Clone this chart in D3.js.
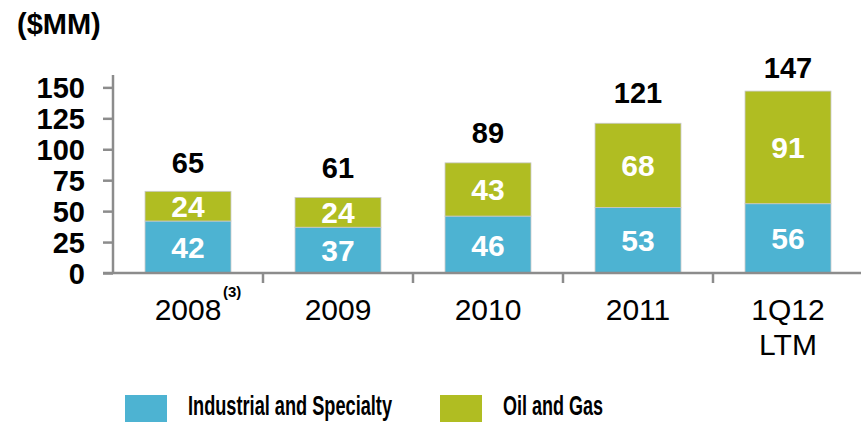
<!DOCTYPE html>
<html>
<head>
<meta charset="utf-8">
<script src="https://cdn.jsdelivr.net/npm/d3@7"></script>
<style>
  html, body { margin: 0; padding: 0; background: #fff; }
  svg { display: block; font-family: Arial, "Liberation Sans", sans-serif; }
</style>
</head>
<body>
<svg id="chart" width="861" height="422"></svg>
<script>
// Revenue by segment, $MM
const categories = ["2008", "2009", "2010", "2011", "1Q12 LTM"];
const industrial = [42, 37, 46, 53, 56];
const oilGas     = [24, 24, 43, 68, 91];
const totals     = [65, 61, 89, 121, 147];
const seriesNames = ["Industrial and Specialty", "Oil and Gas"];
const yTicks = [0, 25, 50, 75, 100, 125, 150];

const colors = { industrial: "#4db3d2", oilGas: "#b0bd22" };
const axisColor = "#8c8c8c";

const svg = d3.select("#chart");

const plot = { left: 113, right: 863, top: 75, bottom: 273 };

const x = d3.scaleBand()
  .domain(categories)
  .range([plot.left, plot.right])
  .paddingInner(0.427)
  .paddingOuter(0.2135);

const y = d3.scaleLinear()
  .domain([0, 160])
  .range([plot.bottom, plot.top]);

// Unit title
svg.append("text")
  .attr("x", 17).attr("y", 34)
  .attr("font-size", 29).attr("font-weight", "bold")
  .attr("fill", "#000")
  .text("($MM)");

// Stacked data
const stackData = categories.map((c, i) => ({ cat: c, industrial: industrial[i], oilGas: oilGas[i] }));
const stack = d3.stack().keys(["industrial", "oilGas"]);
const layers = stack(stackData);

const gBars = svg.append("g");
layers.forEach(layer => {
  gBars.selectAll(null)
    .data(layer)
    .enter().append("rect")
    .attr("x", d => x(d.data.cat))
    .attr("width", x.bandwidth())
    .attr("y", d => y(d[1]))
    .attr("height", d => y(d[0]) - y(d[1]))
    .attr("fill", colors[layer.key])
    .attr("stroke", "#c8c8c8")
    .attr("stroke-width", 0.8);

  // Segment value labels
  gBars.selectAll(null)
    .data(layer)
    .enter().append("text")
    .attr("x", d => x(d.data.cat) + x.bandwidth() / 2)
    .attr("y", d => (y(d[0]) + y(d[1])) / 2 + 11)
    .attr("text-anchor", "middle")
    .attr("font-size", 30).attr("font-weight", "bold")
    .attr("fill", "#fff")
    .text(d => d[1] - d[0]);
});

// Total labels above each bar (kept inside the top of the plot)
const totalMinBaseline = 78;
svg.append("g").selectAll("text")
  .data(categories)
  .enter().append("text")
  .attr("x", d => x(d) + x.bandwidth() / 2)
  .attr("y", (d, i) => Math.max(y(totals[i]) - 20, totalMinBaseline))
  .attr("text-anchor", "middle")
  .attr("font-size", 29).attr("font-weight", "bold")
  .attr("fill", "#000")
  .text((d, i) => totals[i]);

// Y axis
const yAxis = d3.axisLeft(y).tickValues(yTicks).tickSize(10).tickPadding(18);
const gy = svg.append("g").attr("transform", `translate(${plot.left},0)`).call(yAxis);
gy.select(".domain").attr("d", `M0,${plot.bottom}V${plot.top}`).attr("stroke", axisColor).attr("stroke-width", 2.5);
gy.selectAll(".tick line").attr("stroke", axisColor).attr("stroke-width", 2.5);
gy.selectAll(".tick text")
  .attr("font-size", 29).attr("font-weight", "bold")
  .attr("fill", "#000").attr("font-family", "Arial, 'Liberation Sans', sans-serif")
  .attr("dy", "0.35em");

// X axis baseline with category separators
const gx = svg.append("g");
gx.append("line")
  .attr("x1", plot.left - 10).attr("x2", 861)
  .attr("y1", plot.bottom).attr("y2", plot.bottom)
  .attr("stroke", axisColor).attr("stroke-width", 2.5);
const step = x.step();
gx.selectAll(".sep")
  .data(categories.map((c, i) => plot.left + i * step).slice(1))
  .enter().append("line")
  .attr("x1", d => d).attr("x2", d => d)
  .attr("y1", plot.bottom).attr("y2", plot.bottom + 10)
  .attr("stroke", axisColor).attr("stroke-width", 2.5);

// Category labels (multi-line, with footnote on the first)
categories.forEach((c, i) => {
  const cx = x(c) + x.bandwidth() / 2;
  const lines = c === "1Q12 LTM" ? ["1Q12", "LTM"] : [c];
  lines.forEach((ln, j) => {
    svg.append("text")
      .attr("x", cx).attr("y", 320 + j * 35)
      .attr("text-anchor", "middle")
      .attr("font-size", 30)
      .attr("fill", "#000")
      .text(ln);
  });
  if (c === "2008") {
    svg.append("text")
      .attr("x", cx + 35).attr("y", 297)
      .attr("font-size", 15).attr("font-weight", "bold")
      .attr("fill", "#000")
      .text("(3)");
  }
});

// Legend
const legend = [
  { name: seriesNames[0], color: colors.industrial, sx: 125, tx: 188, tw: 204 },
  { name: seriesNames[1], color: colors.oilGas, sx: 440, tx: 503, tw: 100 }
];
const gl = svg.append("g");
legend.forEach(l => {
  gl.append("rect")
    .attr("x", l.sx).attr("y", 395)
    .attr("width", 42).attr("height", 27)
    .attr("fill", l.color);
  gl.append("text")
    .attr("x", l.tx).attr("y", 415)
    .attr("font-size", 27).attr("font-weight", "bold")
    .attr("fill", "#000")
    .attr("textLength", l.tw).attr("lengthAdjust", "spacingAndGlyphs")
    .text(l.name);
});
</script>
</body>
</html>
